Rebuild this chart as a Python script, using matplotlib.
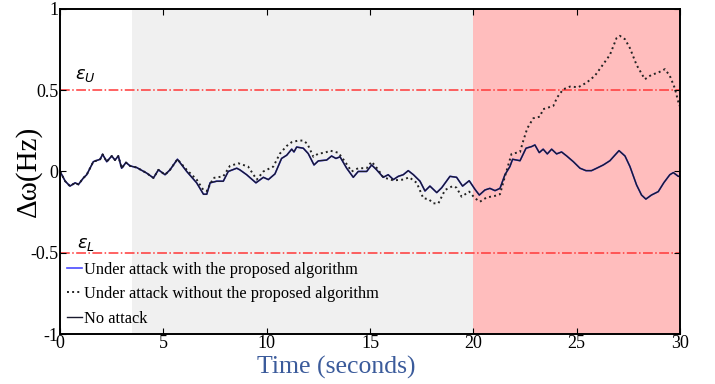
import matplotlib
matplotlib.use('Agg')
matplotlib.rcParams.update({'font.family': 'Liberation Serif', 'axes.unicode_minus': False,
                            'mathtext.fontset': 'dejavusans'})
import matplotlib.pyplot as plt

# frequency deviation, no attack (the protected run follows it closely)
t_no_attack = [0, 0.25, 0.48, 0.73, 0.89, 1.13, 1.29, 1.45, 1.61, 1.94, 2.06, 2.26, 2.5, 2.66,
               2.82, 2.98, 3.19, 3.39, 3.71, 4.19, 4.52, 4.76, 5.08, 5.32, 5.68, 6.13, 6.61,
               6.94, 7.1, 7.26, 7.58, 7.9, 8.14, 8.55, 8.7, 9.03, 9.48, 9.84, 10.08, 10.4,
               10.72, 10.97, 11.21, 11.32, 11.45, 11.77, 12.01, 12.29, 12.5, 12.9, 13.14,
               13.35, 13.55, 13.87, 14.19, 14.43, 14.84, 15.08, 15.32, 15.64, 15.88, 16.13,
               16.37, 16.61, 16.85, 17.1, 17.42, 17.66, 17.9, 18.23, 18.47, 18.87, 19.19,
               19.48, 19.8, 20.08, 20.29, 20.56, 20.8, 21.05, 21.29, 21.53, 21.77, 21.9,
               22.26, 22.55, 22.82, 22.98, 23.19, 23.38, 23.58, 23.79, 24.03, 24.27, 24.52,
               24.84, 25.16, 25.45, 25.72, 25.97, 26.29, 26.61, 26.85, 27.05, 27.34, 27.58,
               27.9, 28.14, 28.35, 28.62, 28.95, 29.22, 29.51, 29.68, 29.92, 30]
no_attack = [0, -0.06, -0.09, -0.07, -0.08, -0.04, -0.02, 0.02, 0.06, 0.075, 0.105, 0.06, 0.095,
             0.07, 0.095, 0.02, 0.055, 0.034, 0.024, -0.01, -0.04, 0.01, -0.02, 0.01, 0.075,
             0.0, -0.07, -0.14, -0.14, -0.07, -0.06, -0.06, 0.0, 0.02, 0.01, -0.02, -0.07,
             -0.036, -0.05, -0.015, 0.08, 0.10, 0.137, 0.12, 0.15, 0.143, 0.11, 0.04, 0.065,
             0.07, 0.095, 0.08, 0.09, 0.02, -0.036, 0.0, 0.0, 0.04, 0.01, -0.036, -0.02, -0.05,
             -0.03, -0.02, 0.005, -0.02, -0.06, -0.12, -0.09, -0.13, -0.1, -0.03, -0.036,
             -0.09, -0.057, -0.11, -0.145, -0.114, -0.104, -0.118, -0.104, -0.02, 0.03, 0.075,
             0.066, 0.143, 0.153, 0.163, 0.116, 0.137, 0.108, 0.137, 0.108, 0.12, 0.095, 0.06,
             0.02, 0.005, 0.005, 0.02, 0.04, 0.066, 0.1, 0.128, 0.095, 0.03, -0.083, -0.145,
             -0.17, -0.145, -0.124, -0.069, -0.02, -0.007, -0.03, -0.03]
with_algorithm = list(no_attack)

# under attack, no defence
t_without = [0, 0.25, 0.48, 0.73, 0.89, 1.13, 1.29, 1.45, 1.61, 1.94, 2.06, 2.26, 2.5, 2.66,
             2.82, 2.98, 3.19, 3.39, 3.71, 4.19, 4.52, 4.76, 5.08, 5.32, 5.68, 6.13, 6.61,
             6.94, 7.1, 7.42, 7.9, 8.22, 8.63, 9.1, 9.52, 9.84, 10.32, 10.64, 10.97, 11.21,
             11.53, 11.77, 11.97, 12.26, 12.5, 12.82, 13.06, 13.47, 13.79, 14.11, 14.43,
             14.84, 15.08, 15.4, 15.64, 16.13, 16.61, 16.9, 17.26, 17.58, 17.83, 18.07, 18.31,
             18.63, 19.0, 19.19, 19.43, 19.8, 20.08, 20.32, 20.64, 21.05, 21.29, 21.53, 21.85,
             22.26, 22.42, 22.61, 22.9, 23.22, 23.38, 23.55, 23.87, 24.06, 24.35, 24.68,
             25.08, 25.48, 25.88, 26.29, 26.61, 26.93, 27.09, 27.34, 27.58, 27.9, 28.3, 28.62,
             28.95, 29.27, 29.51, 29.75, 29.97]
without_algorithm = [0, -0.06, -0.09, -0.07, -0.08, -0.04, -0.02, 0.02, 0.06, 0.075, 0.105,
                     0.06, 0.095, 0.07, 0.095, 0.02, 0.055, 0.034, 0.024, -0.01, -0.04, 0.01,
                     -0.02, 0.01, 0.075, 0.01, -0.05, -0.115, -0.12, -0.04, -0.03, 0.034, 0.05,
                     0.03, -0.05, 0.0, 0.03, 0.11, 0.157, 0.18, 0.19, 0.19, 0.17, 0.09, 0.11,
                     0.115, 0.128, 0.115, 0.06, 0.0, 0.02, 0.02, 0.06, 0.01, -0.036, -0.055,
                     -0.05, -0.036, -0.07, -0.165, -0.17, -0.196, -0.196, -0.114, -0.09, -0.1,
                     -0.155, -0.124, -0.165, -0.186, -0.16, -0.15, -0.14, -0.03, 0.108, 0.12,
                     0.19, 0.265, 0.327, 0.337, 0.383, 0.39, 0.403, 0.456, 0.505, 0.522, 0.518,
                     0.546, 0.588, 0.66, 0.717, 0.82, 0.834, 0.813, 0.758, 0.655, 0.567, 0.594,
                     0.608, 0.629, 0.588, 0.512, 0.403]

# bounds and shaded periods
eps_upper = 0.5
eps_lower = -0.5
gray_span = (3.5, 20)
red_span = (20, 30)

fig = plt.figure(figsize=(7.15, 3.84), dpi=100)
ax = fig.add_axes([0.084, 0.130, 0.867, 0.847])

ax.axvspan(*gray_span, color='#f0f0f0', lw=0, zorder=0)
ax.axvspan(*red_span, color='#ffbdbd', lw=0, zorder=0)
ax.axhline(eps_upper, color='#ff3838', ls='-.', lw=1.1, zorder=1)
ax.axhline(eps_lower, color='#ff3838', ls='-.', lw=1.1, zorder=1)

ax.plot(t_no_attack, with_algorithm, color='#4a4aff', lw=1.2, label='Under attack with the proposed algorithm')
ax.plot(t_without, without_algorithm, color='#222222', ls=':', lw=1.4, label='Under attack without the proposed algorithm')
ax.plot(t_no_attack, no_attack, color='#1a1a2e', lw=1.0, label='No attack')

ax.text(0.7, 0.57, r'$\epsilon_U$', fontsize=13)
ax.text(0.8, -0.47, r'$\epsilon_L$', fontsize=13)

ax.set_xlim(0, 30)
ax.set_ylim(-1, 1)
ax.set_xticks([0, 5, 10, 15, 20, 25, 30])
ax.set_yticks([-1, -0.5, 0, 0.5, 1])
ax.set_yticklabels(['-1', '-0.5', '0', '0.5', '1'])
ax.tick_params(direction='in', length=4, top=True, right=True, labelsize=13, pad=1)
for s in ax.spines.values():
    s.set_linewidth(1.4)

# labels sit where the original put them (x label a bit left of centre)
ax.set_xlabel('Time (seconds)', fontsize=18.5, color='#3b5b9b')
ax.xaxis.set_label_coords(0.445, -0.068)
ax.set_ylabel('Δω(Hz)', fontsize=21)
ax.yaxis.set_label_coords(-0.03, 0.5)

ax.legend(loc='lower left', frameon=False, fontsize=11.8, handlelength=0.9, handletextpad=0.1,
          borderaxespad=0.05, labelspacing=0.52)

fig.savefig('out.png', dpi=100)
